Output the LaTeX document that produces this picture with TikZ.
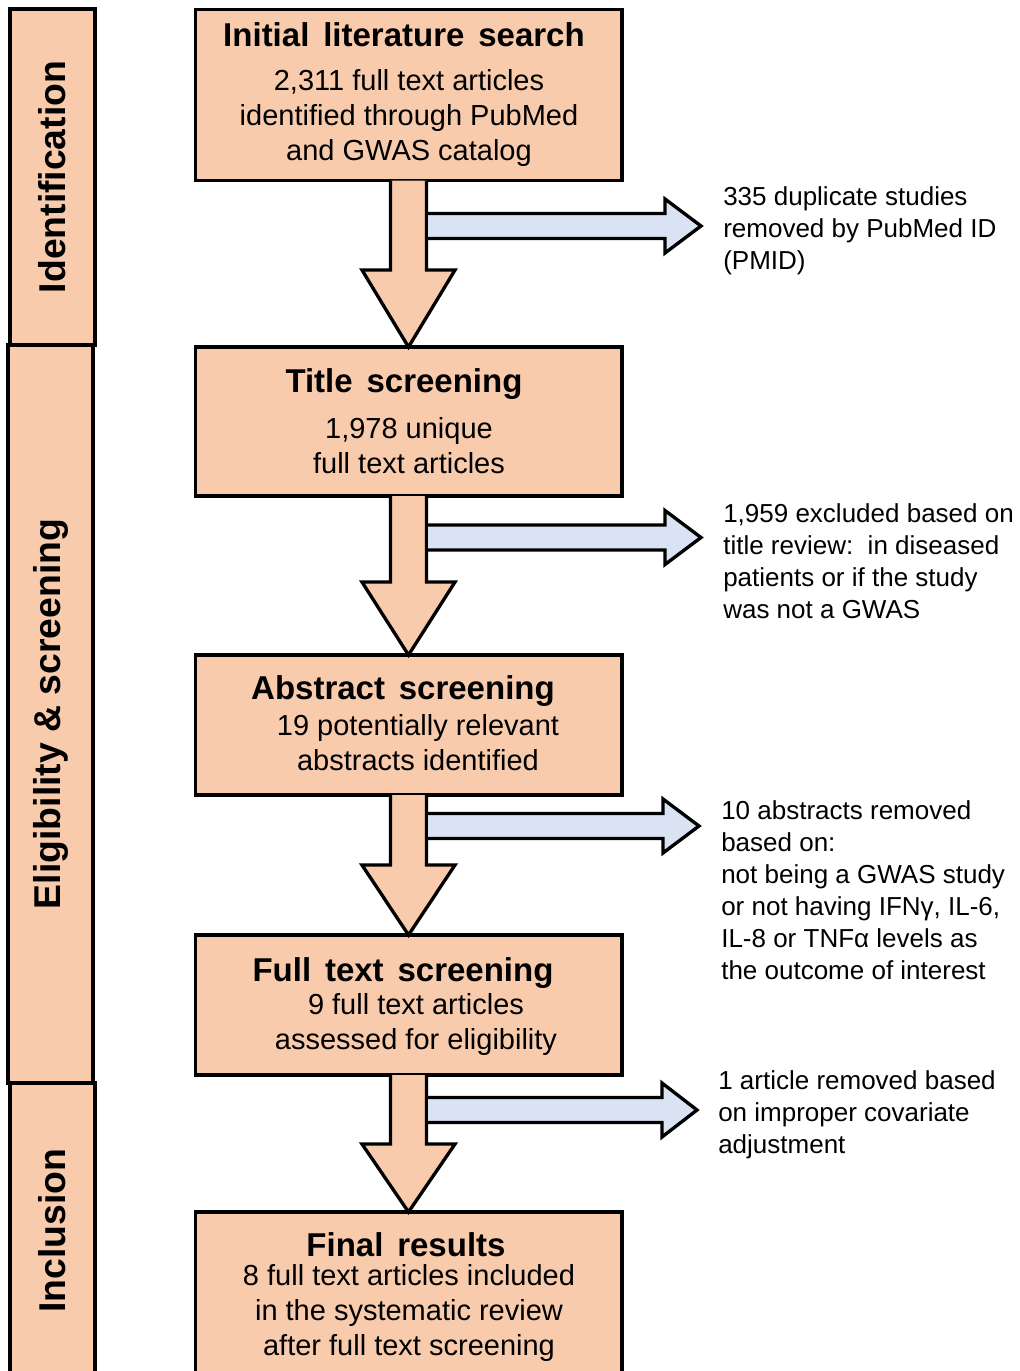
\documentclass[tikz,border=0pt]{standalone}
\usepackage{fontspec}
\setmainfont{Liberation Sans}
\usetikzlibrary{calc}
\definecolor{peach}{HTML}{F8CBAD}
\definecolor{paleblue}{HTML}{DAE3F3}
\newcommand\widewords{\spaceskip=0.42em\relax}
\tikzset{
  stage/.style={draw, fill=peach, line width=2.5pt, minimum width=320pt, outer sep=0pt, inner sep=0pt},
  phase/.style={draw, fill=peach, line width=2.5pt, rotate=90, minimum height=63.75pt, outer sep=0pt, inner sep=0pt, font=\bfseries\fontsize{28}{30}\selectfont},
  head/.style={font=\bfseries\fontsize{24.75}{28}\selectfont, execute at begin node=\widewords, inner sep=0pt},
  body/.style={font=\fontsize{21.75}{26.25}\selectfont, align=center, inner sep=0pt},
  note/.style={font=\fontsize{19.5}{24}\selectfont, align=left, anchor=west, inner sep=0pt},
  down/.style={draw, fill=peach, line width=2.5pt, line join=miter},
  aside/.style={draw, fill=paleblue, line width=2.5pt, line join=miter}
}
\begin{document}
\begin{tikzpicture}[x=0.75pt, y=-0.75pt]
    \useasboundingbox (0,0) rectangle (1020,1371);
    % phases on the left
    \node[phase, minimum width=252pt] (ident) at (52.5,177) {Identification};
    \node[phase, minimum width=553.5pt] (elig) at (50.5,714) {Eligibility \& screening};
    \node[phase, minimum width=221.25pt] (incl) at (52.5,1230.5) {Inclusion};
    % stages
    \node[stage, minimum height=128.25pt] (search) at (408.5,95) {};
    \node[stage, minimum height=111.75pt] (titles) at (408.5,421.5) {};
    \node[stage, minimum height=105pt] (abstr) at (408.5,725) {};
    \node[stage, minimum height=105pt] (fulltext) at (408.5,1005) {};
    \node[stage, minimum height=124.5pt] (final) at (408.5,1295) {};
    \node[head] (search-h) at (404,35) {Initial literature search};
    \node[head] (titles-h) at (404,384) {Title screening};
    \node[head] (abstr-h) at (403,691) {Abstract screening};
    \node[head] (fulltext-h) at (403,973) {Full text screening};
    \node[head] (final-h) at (406,1245) {Final results};
    \node[body] (search-b) at (409,118) {2,311 full text articles\\identified through PubMed\\and GWAS catalog};
    \node[body] (titles-b) at (409,445.5) {1,978 unique\\full text articles};
    \node[body] (abstr-b) at (418,742.5) {19 potentially relevant\\abstracts identified};
    \node[body] (fulltext-b) at (416,1024) {9 full text articles\\assessed for eligibility};
    \node[body] (final-b) at (409,1313) {8 full text articles included\\in the systematic review\\after full text screening};
    % removed records
    \node[note] (dup) at (723,231) {335 duplicate studies\\removed by PubMed ID\\(PMID)};
    \node[note] (excl) at (723,561) {1,959 excluded based on\\title review:\ \ in diseased\\patients or if the study\\was not a GWAS};
    \node[note] (rem) at (721,890) {10 abstracts removed\\based on:\\not being a GWAS study\\or not having IFNγ, IL-6,\\IL-8 or TNFα levels as\\the outcome of interest};
    \node[note] (adj) at (718,1115) {1 article removed based\\on improper covariate\\adjustment};
    % flow between stages
    \path[down] ($(search.south)+(-18,0)$) -- ($(titles.north)+(-18,-77)$) -- ++(-28.5,0) -- (titles.north) -- ($(titles.north)+(46.5,-77)$) -- ++(-28.5,0) -- ($(search.south)+(18,0)$);
    \path[down] ($(titles.south)+(-18,0)$) -- ($(abstr.north)+(-18,-73)$) -- ++(-28.5,0) -- (abstr.north) -- ($(abstr.north)+(46.5,-73)$) -- ++(-28.5,0) -- ($(titles.south)+(18,0)$);
    \path[down] ($(abstr.south)+(-18,0)$) -- ($(fulltext.north)+(-18,-70)$) -- ++(-28.5,0) -- (fulltext.north) -- ($(fulltext.north)+(46.5,-70)$) -- ++(-28.5,0) -- ($(abstr.south)+(18,0)$);
    \path[down] ($(fulltext.south)+(-18,0)$) -- ($(final.north)+(-18,-68)$) -- ++(-28.5,0) -- (final.north) -- ($(final.north)+(46.5,-68)$) -- ++(-28.5,0) -- ($(fulltext.south)+(18,0)$);
    % side exits
    \coordinate (out1) at (428,226);
    \coordinate (out2) at (428,537.5);
    \coordinate (out3) at (428,826);
    \coordinate (out4) at (428,1110);
    \path[aside] ($(out1)+(0,-12.5)$) -- ++(237,0) -- ++(0,-14.5) -- ++(36,27) -- ++(-36,27) -- ++(0,-14.5) -- ++(-237,0);
    \path[aside] ($(out2)+(0,-12.5)$) -- ++(237,0) -- ++(0,-14.5) -- ++(36,27) -- ++(-36,27) -- ++(0,-14.5) -- ++(-237,0);
    \path[aside] ($(out3)+(0,-12.5)$) -- ++(235,0) -- ++(0,-14.5) -- ++(36,27) -- ++(-36,27) -- ++(0,-14.5) -- ++(-235,0);
    \path[aside] ($(out4)+(0,-12.5)$) -- ++(234,0) -- ++(0,-14.5) -- ++(35,27) -- ++(-35,27) -- ++(0,-14.5) -- ++(-234,0);
\end{tikzpicture}
\end{document}
